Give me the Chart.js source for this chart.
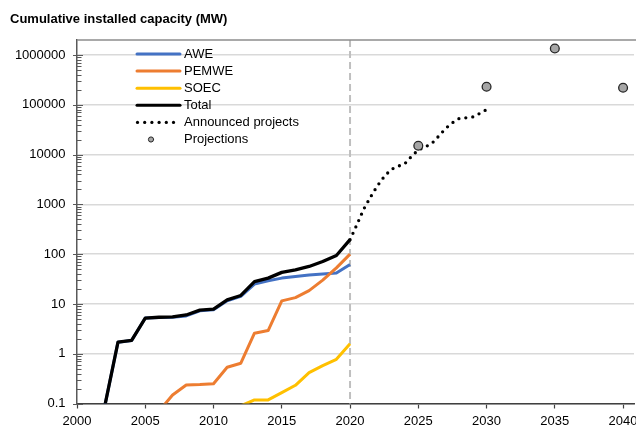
<!DOCTYPE html>
<html><head><meta charset="utf-8">
<script src="https://cdn.jsdelivr.net/npm/chart.js@4.4.1/dist/chart.umd.min.js"></script>
<style>
html,body{margin:0;padding:0;background:#fff;overflow:hidden;width:636px;height:426px}
#wrap{width:680px;height:426px}
</style></head>
<body><div id="wrap"><canvas id="c" width="680" height="426"></canvas></div>
<script>
// ---------------- data ----------------
const TITLE = 'Cumulative installed capacity (MW)';

const xTicks = [2000, 2005, 2010, 2015, 2020, 2025, 2030, 2035, 2040];
const yTicks = [0.1, 1, 10, 100, 1000, 10000, 100000, 1000000];

const totalYears = [2002, 2003, 2004, 2005, 2006, 2007, 2008, 2009, 2010, 2011, 2012, 2013, 2014, 2015, 2016, 2017, 2018, 2019, 2020];
const totalValues = [0.08, 1.7, 1.85, 5.2, 5.4, 5.5, 6.0, 7.5, 7.9, 12.1, 14.8, 28, 33, 43, 48.5, 56.6, 71, 94, 195];

const aweYears = [2002, 2003, 2004, 2005, 2006, 2007, 2008, 2009, 2010, 2011, 2012, 2013, 2014, 2015, 2016, 2017, 2018, 2019, 2020];
const aweValues = [0.08, 1.7, 1.85, 5.2, 5.35, 5.4, 5.75, 7.3, 7.65, 11.6, 14.2, 25, 29.2, 33, 35.6, 38, 39.8, 41.7, 62];

const pemweYears = [2006, 2007, 2008, 2009, 2010, 2011, 2012, 2013, 2014, 2015, 2016, 2017, 2018, 2019, 2020];
const pemweValues = [0.07, 0.148, 0.235, 0.24, 0.25, 0.535, 0.645, 2.58, 2.92, 11.5, 13.4, 18.5, 30, 53, 100];

const soecYears = [2012, 2013, 2014, 2015, 2016, 2017, 2018, 2019, 2020];
const soecValues = [0.09, 0.118, 0.118, 0.165, 0.232, 0.417, 0.576, 0.77, 1.58];

const announcedYears = [2020, 2020.5, 2021, 2021.5, 2022, 2022.5, 2023, 2023.5, 2024, 2024.5, 2025, 2025.5, 2026, 2026.5, 2027, 2027.5, 2028, 2028.5, 2029, 2029.5, 2030];
const announcedValues = [195, 390, 800, 1400, 2350, 3600, 5000, 5800, 6500, 9200, 12400, 14200, 16800, 23500, 33500, 43500, 53000, 54700, 57000, 67000, 80000];

const projectionYears = [2025, 2030, 2035, 2040];
const projectionValues = [15000, 230000, 1350000, 220000];

const seriesLabels = ['AWE', 'PEMWE', 'SOEC', 'Total', 'Announced projects', 'Projections'];
// ---------------------------------------

const pts = (xs, ys) => xs.map((x, i) => ({x: x, y: ys[i]}));
const isMajor = v => yTicks.some(t => Math.abs(t - v) / t < 1e-9);
const yAll = [];
yTicks.forEach((d, i) => {
  yAll.push(d);
  if (i < yTicks.length - 1) for (let k = 2; k <= 9; k++) yAll.push(+(d * k).toPrecision(6));
});

const FONT = "'Liberation Sans', Arial, Helvetica, sans-serif";
Chart.defaults.font.family = FONT;
Chart.defaults.font.size = 13;
Chart.defaults.color = '#000';

const lineDs = (label, xs, ys, color, order, width) => ({
  label, data: pts(xs, ys), borderColor: color, backgroundColor: color,
  borderWidth: width, pointRadius: 0, tension: 0, order,
  borderJoinStyle: 'round', borderCapStyle: 'butt', legendKind: 'line'
});

const datasets = [
  lineDs(seriesLabels[0], aweYears, aweValues, '#4472C4', 4, 3),
  lineDs(seriesLabels[1], pemweYears, pemweValues, '#ED7D31', 3, 3),
  lineDs(seriesLabels[2], soecYears, soecValues, '#FFC000', 5, 3),
  lineDs(seriesLabels[3], totalYears, totalValues, '#000000', 2, 3.3),
  {
    label: seriesLabels[4], data: pts(announcedYears, announcedValues),
    borderColor: '#000', backgroundColor: '#000', borderWidth: 3.3,
    borderDash: [0, 7], borderCapStyle: 'round', borderJoinStyle: 'round',
    pointRadius: 0, tension: 0, order: 1, legendKind: 'dots'
  },
  {
    label: seriesLabels[5], data: pts(projectionYears, projectionValues),
    showLine: false, pointRadius: 4.4, pointBackgroundColor: '#A6A6A6',
    pointBorderColor: '#262626', pointBorderWidth: 1.3, order: 0, legendKind: 'marker'
  }
];

const decor = {
  id: 'decor',
  beforeDatasetsDraw(chart) {
    const {ctx, chartArea: ca, scales: {x}} = chart;
    const px = x.getPixelForValue(2020);
    ctx.save();
    ctx.strokeStyle = '#BFBFBF';
    ctx.lineWidth = 2;
    ctx.setLineDash([7, 4]);
    ctx.beginPath();
    ctx.moveTo(px, ca.top);
    ctx.lineTo(px, ca.bottom);
    ctx.stroke();
    ctx.restore();
  },
  afterDatasetsDraw(chart) {
    const {ctx, chartArea: ca, scales: {y}} = chart;
    ctx.save();
    // top border
    ctx.strokeStyle = '#8C8C8C';
    ctx.lineWidth = 1.5;
    ctx.beginPath();
    ctx.moveTo(ca.left, ca.top);
    ctx.lineTo(ca.right + 2, ca.top);
    ctx.stroke();
    // y tick marks
    ctx.strokeStyle = '#595959';
    ctx.lineWidth = 1;
    y.ticks.forEach(t => {
      const py = Math.round(y.getPixelForValue(t.value)) + 0.5;
      ctx.beginPath();
      if (isMajor(t.value)) { ctx.moveTo(ca.left - 4, py); ctx.lineTo(ca.left + 6, py); }
      else { ctx.moveTo(ca.left, py); ctx.lineTo(ca.left + 4.5, py); }
      ctx.stroke();
    });
    // legend
    const lx = ca.left + 60, ly0 = ca.top + 14, dy = 17.1, tx = lx + 47;
    ctx.font = '13px ' + FONT;
    ctx.textBaseline = 'middle';
    ctx.textAlign = 'left';
    chart.data.datasets.forEach((ds, i) => {
      const ly = ly0 + i * dy;
      if (ds.legendKind === 'line') {
        ctx.strokeStyle = ds.borderColor;
        ctx.lineWidth = 3;
        ctx.setLineDash([]);
        ctx.lineCap = 'round';
        ctx.beginPath();
        ctx.moveTo(lx, ly); ctx.lineTo(lx + 43, ly);
        ctx.stroke();
      } else if (ds.legendKind === 'dots') {
        ctx.fillStyle = ds.borderColor;
        for (let k = 0; k < 6; k++) {
          ctx.beginPath();
          ctx.arc(lx + 0.5 + k * 7.2, ly, 1.6, 0, Math.PI * 2);
          ctx.fill();
        }
      } else {
        ctx.fillStyle = ds.pointBackgroundColor;
        ctx.strokeStyle = ds.pointBorderColor;
        ctx.lineWidth = 1;
        ctx.beginPath();
        ctx.arc(lx + 14, ly, 2.6, 0, Math.PI * 2);
        ctx.fill(); ctx.stroke();
      }
      ctx.fillStyle = '#000';
      ctx.fillText(ds.label, tx, ly);
    });
    ctx.restore();
  }
};

new Chart(document.getElementById('c'), {
  type: 'line',
  data: { datasets },
  options: {
    responsive: false, animation: false, devicePixelRatio: 1,
    layout: { padding: { left: 10, right: 46, top: 0, bottom: 0 } },
    plugins: {
      legend: { display: false },
      tooltip: { enabled: false },
      title: {
        display: true, text: TITLE, align: 'start', color: '#000',
        font: { size: 13, weight: 'bold', family: FONT },
        padding: { top: 11.7, bottom: 12.7 }
      }
    },
    scales: {
      x: {
        type: 'linear', min: 2000, max: 2040.8,
        afterBuildTicks: s => { s.ticks = xTicks.map(v => ({value: v})); },
        afterFit: s => { s.height = 22.5; },
        grid: { drawOnChartArea: false, drawTicks: true, tickLength: 5, tickColor: '#404040', tickWidth: 1.2 },
        border: { display: true, color: '#404040', width: 1.5 },
        ticks: { padding: 5, autoSkip: false, maxRotation: 0, color: '#000', callback: v => String(v) }
      },
      y: {
        type: 'logarithmic', min: 0.1, max: 2000000,
        afterBuildTicks: s => { s.ticks = yAll.map(v => ({value: v})); },
        afterFit: s => { s.width = 67; },
        grid: { drawTicks: false, lineWidth: 1.5, color: c => (c.tick && isMajor(c.tick.value)) ? '#D9D9D9' : 'rgba(0,0,0,0)' },
        border: { display: true, color: '#595959', width: 1.5 },
        ticks: { padding: 11.5, autoSkip: false, color: '#000', callback: v => isMajor(v) ? String(v) : '' }
      }
    }
  },
  plugins: [decor]
});
</script>
</body></html>
